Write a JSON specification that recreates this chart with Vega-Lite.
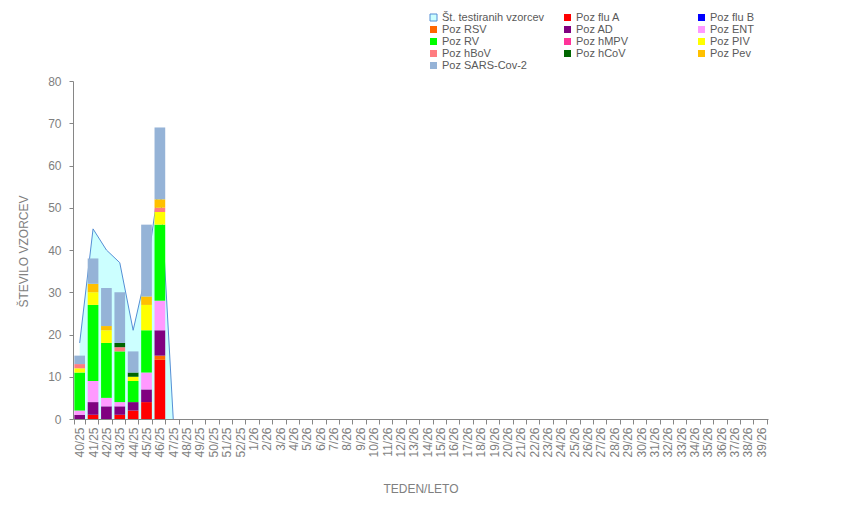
{
  "$schema": "https://vega.github.io/schema/vega-lite/v6.json",
  "width": 695,
  "height": 338,
  "autosize": {"type": "none"},
  "padding": {"left": 73, "top": 81, "right": 82, "bottom": 96},
  "background": "white",
  "config": {
    "view": {"stroke": null},
    "font": "Liberation Sans",
    "axis": {"labelFont": "Liberation Sans", "titleFont": "Liberation Sans", "titleFontWeight": "normal"}
  },
  "datasets": {
    "tested": [
      {"week": "40/25", "series": "Št. testiranih vzorcev", "value": 18},
      {"week": "41/25", "series": "Št. testiranih vzorcev", "value": 45},
      {"week": "42/25", "series": "Št. testiranih vzorcev", "value": 40},
      {"week": "43/25", "series": "Št. testiranih vzorcev", "value": 37},
      {"week": "44/25", "series": "Št. testiranih vzorcev", "value": 21},
      {"week": "45/25", "series": "Št. testiranih vzorcev", "value": 35},
      {"week": "46/25", "series": "Št. testiranih vzorcev", "value": 57},
      {"week": "47/25", "series": "Št. testiranih vzorcev", "value": 0}
    ],
    "series_info": [
      {"series": "Poz flu A", "rank": 1},
      {"series": "Poz flu B", "rank": 2},
      {"series": "Poz RSV", "rank": 3},
      {"series": "Poz AD", "rank": 4},
      {"series": "Poz ENT", "rank": 5},
      {"series": "Poz RV", "rank": 6},
      {"series": "Poz hMPV", "rank": 7},
      {"series": "Poz PIV", "rank": 8},
      {"series": "Poz hBoV", "rank": 9},
      {"series": "Poz hCoV", "rank": 10},
      {"series": "Poz Pev", "rank": 11},
      {"series": "Poz SARS-Cov-2", "rank": 12}
    ],
    "pos": [
      {"week": "40/25", "series": "Poz AD", "value": 1},
      {"week": "40/25", "series": "Poz ENT", "value": 1},
      {"week": "40/25", "series": "Poz RV", "value": 9},
      {"week": "40/25", "series": "Poz PIV", "value": 1},
      {"week": "40/25", "series": "Poz hBoV", "value": 1},
      {"week": "40/25", "series": "Poz SARS-Cov-2", "value": 2},
      {"week": "41/25", "series": "Poz flu A", "value": 1},
      {"week": "41/25", "series": "Poz AD", "value": 3},
      {"week": "41/25", "series": "Poz ENT", "value": 5},
      {"week": "41/25", "series": "Poz RV", "value": 18},
      {"week": "41/25", "series": "Poz PIV", "value": 3},
      {"week": "41/25", "series": "Poz Pev", "value": 2},
      {"week": "41/25", "series": "Poz SARS-Cov-2", "value": 6},
      {"week": "42/25", "series": "Poz AD", "value": 3},
      {"week": "42/25", "series": "Poz ENT", "value": 2},
      {"week": "42/25", "series": "Poz RV", "value": 13},
      {"week": "42/25", "series": "Poz PIV", "value": 3},
      {"week": "42/25", "series": "Poz Pev", "value": 1},
      {"week": "42/25", "series": "Poz SARS-Cov-2", "value": 9},
      {"week": "43/25", "series": "Poz flu A", "value": 1},
      {"week": "43/25", "series": "Poz AD", "value": 2},
      {"week": "43/25", "series": "Poz ENT", "value": 1},
      {"week": "43/25", "series": "Poz RV", "value": 12},
      {"week": "43/25", "series": "Poz hBoV", "value": 1},
      {"week": "43/25", "series": "Poz hCoV", "value": 1},
      {"week": "43/25", "series": "Poz SARS-Cov-2", "value": 12},
      {"week": "44/25", "series": "Poz flu A", "value": 2},
      {"week": "44/25", "series": "Poz AD", "value": 2},
      {"week": "44/25", "series": "Poz RV", "value": 5},
      {"week": "44/25", "series": "Poz PIV", "value": 1},
      {"week": "44/25", "series": "Poz hCoV", "value": 1},
      {"week": "44/25", "series": "Poz SARS-Cov-2", "value": 5},
      {"week": "45/25", "series": "Poz flu A", "value": 4},
      {"week": "45/25", "series": "Poz AD", "value": 3},
      {"week": "45/25", "series": "Poz ENT", "value": 4},
      {"week": "45/25", "series": "Poz RV", "value": 10},
      {"week": "45/25", "series": "Poz PIV", "value": 6},
      {"week": "45/25", "series": "Poz Pev", "value": 2},
      {"week": "45/25", "series": "Poz SARS-Cov-2", "value": 17},
      {"week": "46/25", "series": "Poz flu A", "value": 14},
      {"week": "46/25", "series": "Poz RSV", "value": 1},
      {"week": "46/25", "series": "Poz AD", "value": 6},
      {"week": "46/25", "series": "Poz ENT", "value": 7},
      {"week": "46/25", "series": "Poz RV", "value": 18},
      {"week": "46/25", "series": "Poz PIV", "value": 3},
      {"week": "46/25", "series": "Poz hBoV", "value": 1},
      {"week": "46/25", "series": "Poz Pev", "value": 2},
      {"week": "46/25", "series": "Poz SARS-Cov-2", "value": 17}
    ]
  },
  "layer": [
    {
      "data": {"name": "tested"},
      "mark": {"type": "area", "opacity": 1},
      "encoding": {
        "x": {
          "field": "week", "type": "ordinal", "bandPosition": 0.5,
          "scale": {"domain": ["40/25","41/25","42/25","43/25","44/25","45/25","46/25","47/25","48/25","49/25","50/25","51/25","52/25","1/26","2/26","3/26","4/26","5/26","6/26","7/26","8/26","9/26","10/26","11/26","12/26","13/26","14/26","15/26","16/26","17/26","18/26","19/26","20/26","21/26","22/26","23/26","24/26","25/26","26/26","27/26","28/26","29/26","30/26","31/26","32/26","33/26","34/26","35/26","36/26","37/26","38/26","39/26"], "paddingInner": 0.2, "paddingOuter": 0.1},
          "sort": null,
          "axis": {
            "title": "TEDEN/LETO", "titleFontSize": 12, "titleColor": "#808080",
            "titleBaseline": "alphabetic", "titleY": 73,
            "labelAngle": 270, "labelFontSize": 12, "labelColor": "#7f7f7f", "labelPadding": 3,
            "tickBand": "extent", "tickSize": 5, "tickColor": "#868686",
            "domainColor": "#868686", "grid": false, "labelOverlap": false
          }
        },
        "y": {
          "field": "value", "type": "quantitative", "stack": null,
          "scale": {"domain": [0, 80], "nice": false},
          "axis": {
            "title": "ŠTEVILO VZORCEV", "titleFontSize": 12, "titleColor": "#808080",
            "titleAngle": -90, "titleBaseline": "alphabetic", "titleX": -46, "titleY": 170,
            "values": [0,10,20,30,40,50,60,70,80],
            "labelFontSize": 12, "labelColor": "#7f7f7f", "labelPadding": 8,
            "tickSize": 4, "tickColor": "#868686", "domainColor": "#868686", "grid": false
          }
        },
        "color": {
          "field": "series", "type": "nominal",
          "scale": {
            "domain": ["Št. testiranih vzorcev","Poz flu A","Poz flu B","Poz RSV","Poz AD","Poz ENT","Poz RV","Poz hMPV","Poz PIV","Poz hBoV","Poz hCoV","Poz Pev","Poz SARS-Cov-2"],
            "range": ["#CCFFFF","#FF0000","#0000FF","#FF6600","#800080","#FF99FF","#00FF00","#FF3399","#FFFF00","#FF7C80","#006600","#FFC000","#95B3D7"]
          },
          "legend": {
            "title": null, "orient": "none", "legendX": 355, "legendY": -69,
            "direction": "horizontal",
            "columns": 3, "gridAlign": "all", "columnPadding": 17, "rowPadding": 0,
            "symbolType": "square", "symbolSize": 49, "symbolOpacity": 1,
            "labelFontSize": 11, "labelColor": "#595959", "labelFont": "Liberation Sans",
            "labelOffset": 3, "labelLimit": 300, "padding": 0,
            "encode": {"symbols": {"update": {
              "stroke": {"signal": "datum.value === 'Št. testiranih vzorcev' ? '#558ED5' : 'transparent'"},
              "strokeWidth": {"value": 1}
            }}}
          }
        }
      }
    },
    {
      "data": {"name": "tested"},
      "mark": {"type": "line", "color": "#558ED5", "strokeWidth": 1},
      "encoding": {
        "x": {"field": "week", "type": "ordinal", "bandPosition": 0.5, "sort": null},
        "y": {"field": "value", "type": "quantitative"}
      }
    },
    {
      "data": {"name": "pos"},
      "transform": [
        {"lookup": "series", "from": {"data": {"name": "series_info"}, "key": "series", "fields": ["rank"]}}
      ],
      "mark": {"type": "bar"},
      "encoding": {
        "x": {"field": "week", "type": "ordinal", "sort": null},
        "y": {"field": "value", "type": "quantitative", "stack": "zero"},
        "color": {"field": "series", "type": "nominal"},
        "order": {"field": "rank", "type": "quantitative", "sort": "ascending"}
      }
    }
  ]
}
